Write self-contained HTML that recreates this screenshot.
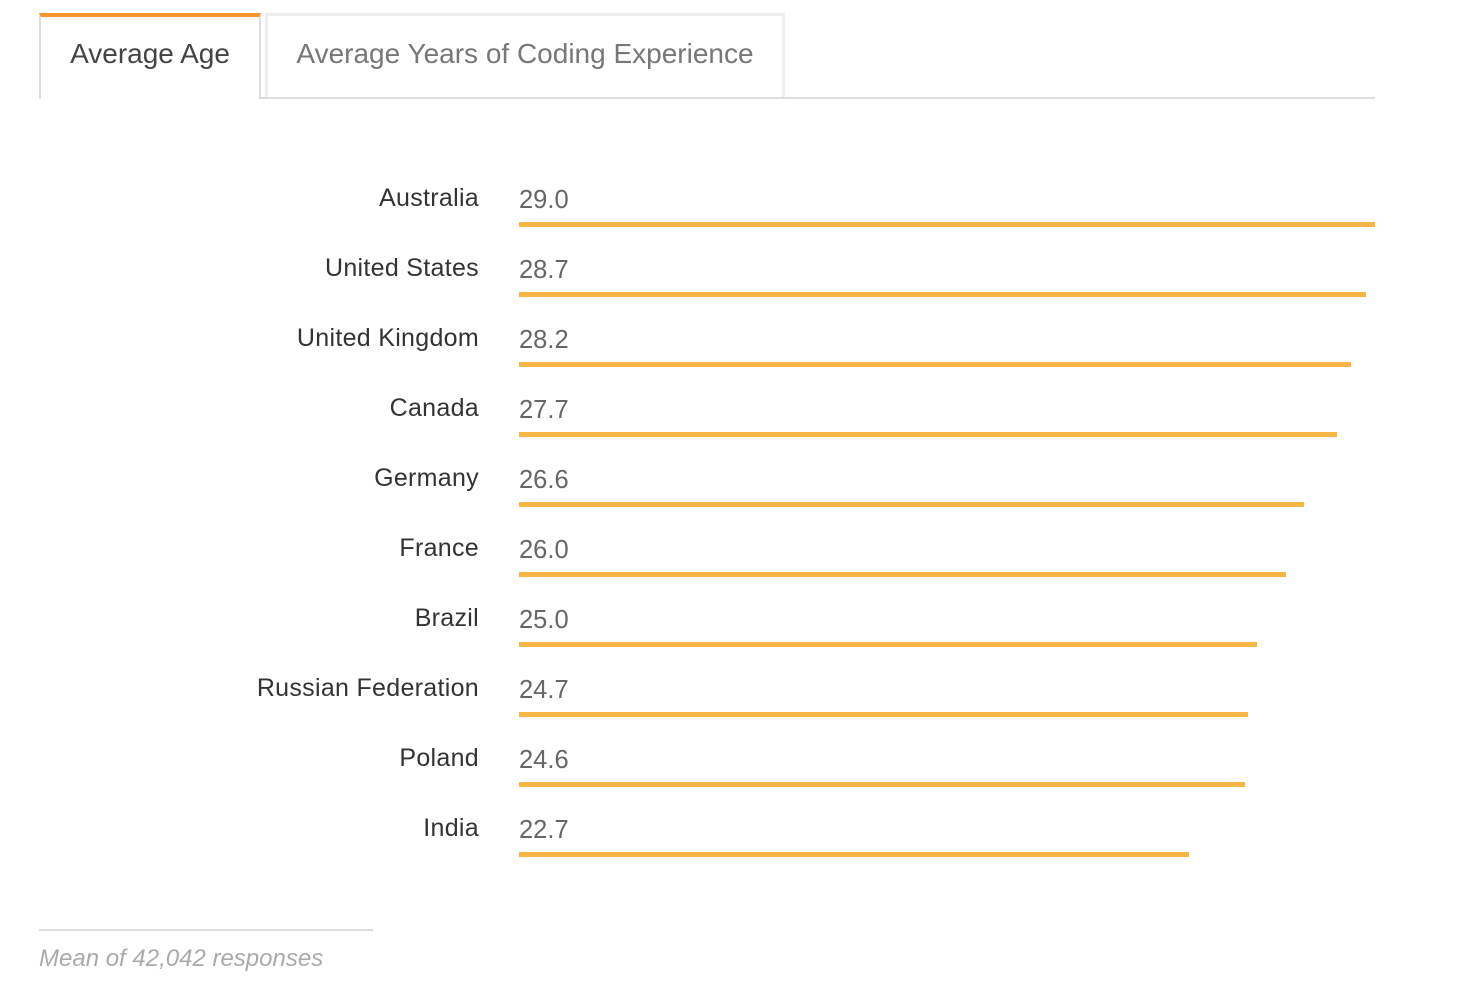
<!DOCTYPE html>
<html><head><meta charset="utf-8"><style>
body{margin:0;width:1471px;height:1000px;background:#fff;font-family:"Liberation Sans",sans-serif;position:relative;overflow:hidden}
.tab{position:absolute;box-sizing:border-box;font-size:28px;text-align:center;line-height:74px}
#t1{left:39px;top:13px;width:222px;height:86px;border-top:4px solid #f7952b;border-left:2px solid #ddd;border-right:2px solid #ddd;color:#444;background:#fff;z-index:2}
#t2{left:265px;top:13px;width:520px;height:85px;border:3px solid #eee;border-bottom:none;color:#777;line-height:76px}
#line{position:absolute;left:39px;top:97px;width:1336px;height:2px;background:#ddd}
.lab{position:absolute;right:992px;font-size:25px;letter-spacing:0.3px;color:#333;white-space:nowrap}
.val{position:absolute;left:519px;font-size:25.5px;color:#666}
.bar{position:absolute;left:519px;height:5px;background:#f8b546}
#fl{position:absolute;left:39px;top:929px;width:334px;height:2px;background:#ddd}
#ft{position:absolute;left:39px;top:945px;font-size:24px;font-style:italic;color:#aaa}
</style></head><body>
<div class="tab" id="t1">Average Age</div>
<div class="tab" id="t2">Average Years of Coding Experience</div>
<div id="line"></div>
<div id="chart"></div>
<div id="fl"></div>
<div id="ft">Mean of 42,042 responses</div>
<script>
const countries=["Australia","United States","United Kingdom","Canada","Germany","France","Brazil","Russian Federation","Poland","India"];
const values=[29.0,28.7,28.2,27.7,26.6,26.0,25.0,24.7,24.6,22.7];
const x0=519,xMax=29.0,wMax=856;
function xs(v){return v/xMax*wMax;}
function ys(i){return 185+i*70;}
const c=document.getElementById('chart');
countries.forEach((n,i)=>{
  const y=ys(i);
  const l=document.createElement('div');l.className='lab';l.style.top=(y-1)+'px';l.textContent=n;
  
  
  c.appendChild(l);
  const v=document.createElement('div');v.className='val';v.style.top=(y+1)+'px';v.textContent=values[i].toFixed(1);
  
  
  c.appendChild(v);
  const b=document.createElement('div');b.className='bar';b.style.top=(y+37)+'px';b.style.width=xs(values[i])+'px';
  
  
  c.appendChild(b);
});
</script>
</body></html>
